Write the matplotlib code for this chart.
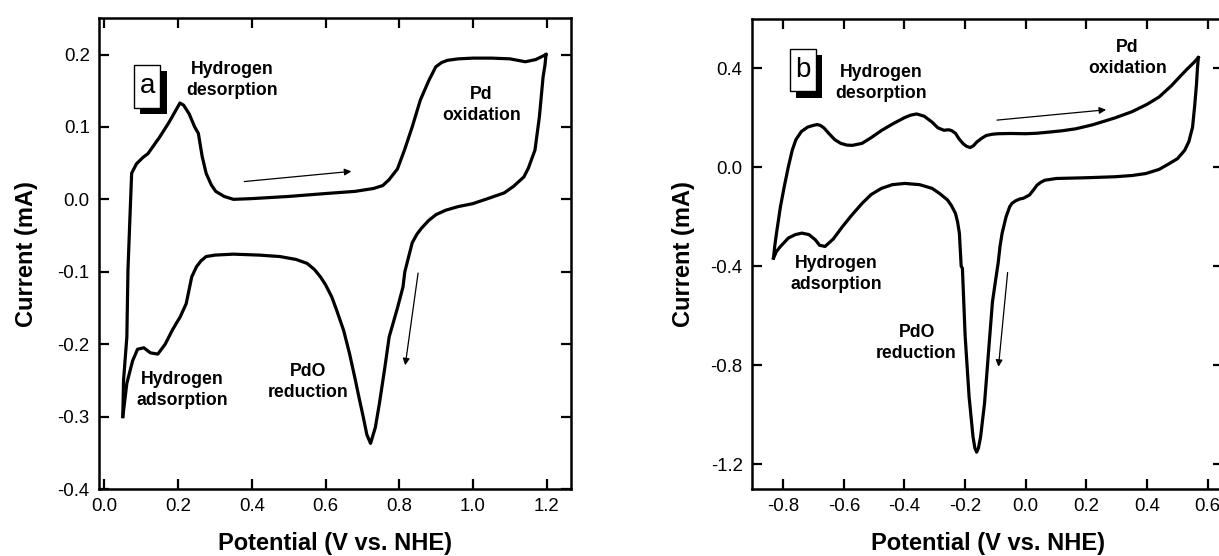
import matplotlib.pyplot as plt
import matplotlib.patheffects as pe
from matplotlib.patches import Rectangle

plt.rcParams['font.family'] = ['Liberation Sans', 'DejaVu Sans']
plt.rcParams['axes.unicode_minus'] = False

# panel a : CV, potential (V vs NHE), current (mA)
a_fwd_x = [0.050, 0.052, 0.061, 0.064, 0.069, 0.074, 0.087, 0.105, 0.118, 0.125, 0.15, 0.175,
           0.195, 0.205, 0.215, 0.230, 0.245, 0.255, 0.265, 0.276, 0.290, 0.302, 0.325, 0.350,
           0.40, 0.50, 0.60, 0.68, 0.730, 0.755, 0.772, 0.795, 0.814, 0.835, 0.857, 0.880,
           0.899, 0.915, 0.931, 0.96, 1.00, 1.05, 1.10, 1.142, 1.170, 1.198]
a_fwd_y = [-0.300, -0.250, -0.190, -0.098, -0.030, 0.036, 0.049, 0.058, 0.063, 0.068, 0.086, 0.106,
           0.124, 0.133, 0.130, 0.118, 0.100, 0.091, 0.060, 0.036, 0.020, 0.011, 0.004, 0.000,
           0.001, 0.004, 0.008, 0.011, 0.015, 0.019, 0.027, 0.042, 0.068, 0.100, 0.137, 0.164,
           0.183, 0.189, 0.192, 0.194, 0.195, 0.195, 0.194, 0.190, 0.193, 0.200]
a_rev_x = [1.198, 1.195, 1.190, 1.180, 1.168, 1.150, 1.138, 1.110, 1.085, 1.040, 0.999, 0.960,
           0.926, 0.900, 0.880, 0.860, 0.848, 0.835, 0.827, 0.815, 0.810, 0.795, 0.7725, 0.760,
           0.746, 0.735, 0.722, 0.712, 0.702, 0.690, 0.681, 0.665, 0.649, 0.630, 0.617, 0.600,
           0.586, 0.570, 0.550, 0.520, 0.476, 0.420, 0.350, 0.300, 0.276, 0.262, 0.250, 0.237,
           0.222, 0.206, 0.185, 0.165, 0.145, 0.125, 0.107, 0.090, 0.0766, 0.068, 0.061, 0.052, 0.050]
a_rev_y = [0.200, 0.185, 0.169, 0.114, 0.068, 0.043, 0.031, 0.018, 0.009, 0.001, -0.006, -0.010,
           -0.015, -0.021, -0.029, -0.040, -0.048, -0.060, -0.076, -0.100, -0.121, -0.150, -0.190, -0.235,
           -0.282, -0.315, -0.337, -0.325, -0.300, -0.272, -0.250, -0.213, -0.181, -0.153, -0.135, -0.118,
           -0.107, -0.097, -0.0885, -0.083, -0.079, -0.077, -0.0757, -0.077, -0.079, -0.085, -0.093, -0.107,
           -0.144, -0.162, -0.180, -0.200, -0.2137, -0.212, -0.205, -0.207, -0.223, -0.240, -0.254, -0.292, -0.300]

# panel b
b_fwd_x = [-0.832, -0.828, -0.822, -0.809, -0.796, -0.783, -0.770, -0.758, -0.740, -0.719, -0.700,
           -0.688, -0.678, -0.666, -0.650, -0.630, -0.610, -0.590, -0.572, -0.540, -0.510, -0.476, -0.440,
           -0.400, -0.380, -0.360, -0.335, -0.309, -0.290, -0.270, -0.255, -0.245, -0.232, -0.220,
           -0.206, -0.195, -0.183, -0.172, -0.162, -0.145, -0.130, -0.110, -0.091, -0.050, 0.000, 0.037,
           0.080, 0.120, 0.165, 0.220, 0.294, 0.350, 0.400, 0.440, 0.480, 0.499, 0.530, 0.555, 0.569]
b_fwd_y = [-0.367, -0.320, -0.266, -0.159, -0.075, 0.002, 0.070, 0.112, 0.145, 0.163, 0.170,
           0.173, 0.170, 0.160, 0.138, 0.112, 0.097, 0.090, 0.089, 0.097, 0.120, 0.149, 0.175,
           0.201, 0.211, 0.216, 0.207, 0.183, 0.160, 0.150, 0.152, 0.149, 0.138, 0.115,
           0.095, 0.085, 0.080, 0.088, 0.102, 0.118, 0.129, 0.134, 0.136, 0.137, 0.136, 0.138,
           0.143, 0.148, 0.156, 0.172, 0.200, 0.225, 0.255, 0.285, 0.330, 0.355, 0.395, 0.425, 0.444]
b_rev_x = [0.569, 0.566, 0.563, 0.557, 0.550, 0.538, 0.524, 0.500, 0.473, 0.440, 0.396, 0.350, 0.294,
           0.200, 0.101, 0.063, 0.050, 0.037, 0.025, 0.012, -0.008, -0.020, -0.033, -0.045,
           -0.053, -0.065, -0.078, -0.085, -0.091, -0.100, -0.110, -0.123, -0.136, -0.149, -0.156,
           -0.162, -0.168, -0.174, -0.187, -0.200, -0.209, -0.213, -0.219, -0.225, -0.232, -0.245,
           -0.258, -0.285, -0.309, -0.350, -0.399, -0.440, -0.476, -0.510, -0.540, -0.575, -0.604,
           -0.635, -0.662, -0.680, -0.694, -0.715, -0.738, -0.760, -0.783, -0.809, -0.822, -0.832]
b_rev_y = [0.444, 0.400, 0.337, 0.250, 0.163, 0.105, 0.069, 0.035, 0.015, -0.008, -0.025, -0.033, -0.038,
           -0.042, -0.045, -0.052, -0.060, -0.072, -0.092, -0.112, -0.125, -0.128, -0.135, -0.145,
           -0.159, -0.200, -0.266, -0.320, -0.386, -0.460, -0.545, -0.749, -0.954, -1.090, -1.135,
           -1.152, -1.135, -1.090, -0.927, -0.681, -0.408, -0.400, -0.266, -0.220, -0.186, -0.155,
           -0.132, -0.105, -0.085, -0.070, -0.065, -0.070, -0.085, -0.110, -0.146, -0.195, -0.239,
           -0.290, -0.320, -0.315, -0.293, -0.272, -0.266, -0.272, -0.286, -0.320, -0.340, -0.367]

a_xticks = [0.0, 0.2, 0.4, 0.6, 0.8, 1.0, 1.2]
a_yticks = [-0.4, -0.3, -0.2, -0.1, 0.0, 0.1, 0.2]
b_xticks = [-0.8, -0.6, -0.4, -0.2, 0.0, 0.2, 0.4, 0.6]
b_yticks = [-1.2, -0.8, -0.4, 0.0, 0.4]

fig = plt.figure(figsize=(12.19, 5.56), dpi=100)
ax1 = fig.add_axes([0.0815, 0.1205, 0.3870, 0.8466])
ax2 = fig.add_axes([0.6171, 0.1205, 0.3861, 0.8453])


def style(ax, xt, yt, ypad):
    ax.set_xticks(xt)
    ax.set_yticks(yt)
    ax.set_xticklabels(['%.1f' % v for v in xt])
    ax.set_yticklabels(['%.1f' % v for v in yt])
    ax.tick_params(direction='in', top=True, right=True, length=7, width=1.6, labelsize=13.4)
    ax.tick_params(axis='x', pad=6.5)
    ax.tick_params(axis='y', pad=7)
    for s in ax.spines.values():
        s.set_linewidth(1.8)
    ax.set_xlabel('Potential (V vs. NHE)', fontsize=17, fontweight='bold', labelpad=12)
    ax.set_ylabel('Current (mA)', fontsize=17, fontweight='bold', labelpad=ypad)


def panel_box(ax, x0, y0, w, h, letter):
    r = Rectangle((x0, y0), w, h, facecolor='white', edgecolor='black', lw=1.0, zorder=4,
                  path_effects=[pe.SimplePatchShadow(offset=(4.5, -4.5), shadow_rgbFace='black', alpha=1),
                                pe.Normal()])
    ax.add_patch(r)
    ax.text(x0 + w / 2, y0 + h / 2, letter, ha='center', va='center', fontsize=20, zorder=5)


bold = dict(fontsize=12.7, fontweight='bold', ha='center', va='center', linespacing=1.3)
arr = dict(arrowstyle='-|>', color='black', lw=0.9, mutation_scale=10)

# panel a
ax1.plot(a_fwd_x, a_fwd_y, color='black', lw=2.3)
ax1.plot(a_rev_x, a_rev_y, color='black', lw=2.3)
ax1.set_xlim(-0.0136, 1.266)
ax1.set_ylim(-0.4, 0.25)
style(ax1, a_xticks, a_yticks, 14)
panel_box(ax1, 0.080, 0.126, 0.072, 0.060, 'a')
ax1.text(0.347, 0.165, 'Hydrogen\ndesorption', **bold)
ax1.text(1.0225, 0.130, 'Pd\noxidation', **bold)
ax1.text(0.211, -0.263, 'Hydrogen\nadsorption', **bold)
ax1.text(0.553, -0.252, 'PdO\nreduction', **bold)
ax1.annotate('', xy=(0.6775, 0.039), xytext=(0.372, 0.0242), arrowprops=arr)
ax1.annotate('', xy=(0.815, -0.233), xytext=(0.852, -0.098), arrowprops=arr)

# panel b
ax2.plot(b_fwd_x, b_fwd_y, color='black', lw=2.3)
ax2.plot(b_rev_x, b_rev_y, color='black', lw=2.3)
ax2.set_xlim(-0.902, 0.65)
ax2.set_ylim(-1.301, 0.6)
style(ax2, b_xticks, b_yticks, 11)
panel_box(ax2, -0.777, 0.3075, 0.086, 0.1705, 'b')
ax2.text(-0.476, 0.34, 'Hydrogen\ndesorption', **bold)
ax2.text(0.336, 0.444, 'Pd\noxidation', **bold)
ax2.text(-0.626, -0.43, 'Hydrogen\nadsorption', **bold)
ax2.text(-0.36, -0.711, 'PdO\nreduction', **bold)
ax2.annotate('', xy=(0.274, 0.234), xytext=(-0.104, 0.19), arrowprops=arr)
ax2.annotate('', xy=(-0.091, -0.818), xytext=(-0.059, -0.414), arrowprops=arr)

fig.savefig('out.png', dpi=100)
